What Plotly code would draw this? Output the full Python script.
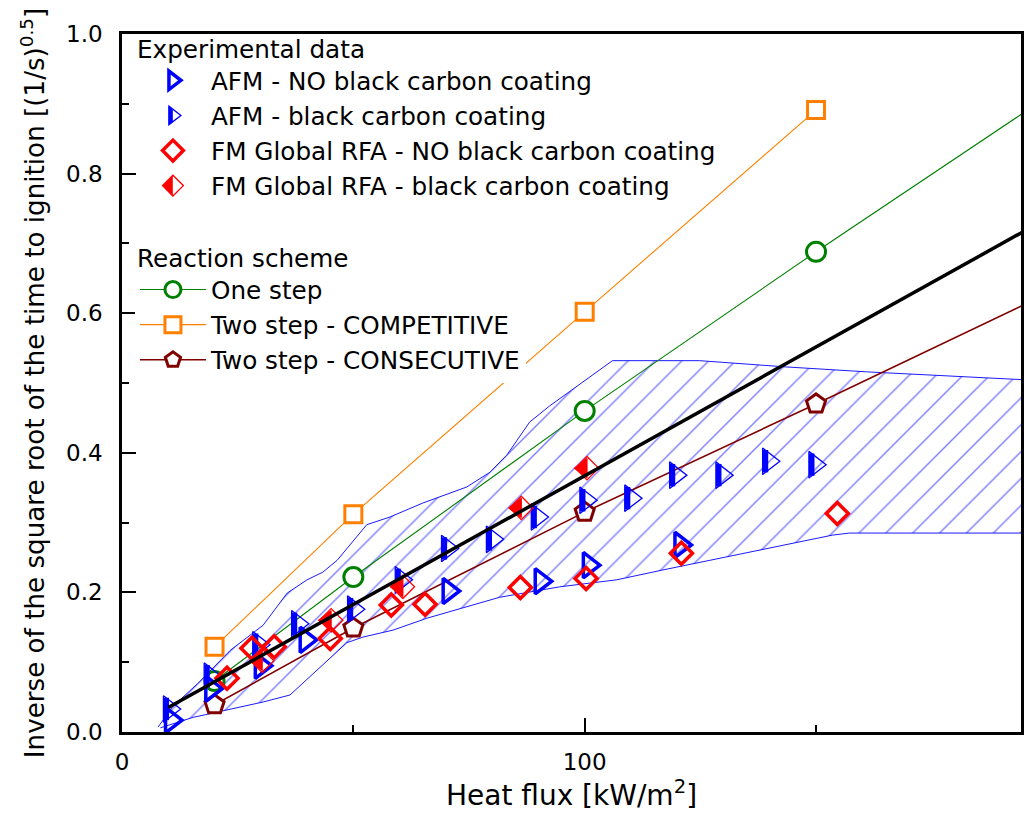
import plotly.graph_objects as go

# ---------------- data ----------------
# Experimental data
afm_no_x = [10.6, 19.3, 30.0, 39.7, 70.6, 90.5, 100.9, 120.7]
afm_no_y = [0.017, 0.062, 0.095, 0.132, 0.202, 0.216, 0.239, 0.268]

afm_bc_x = [10.2, 19.0, 29.5, 37.9, 50.0, 60.3, 70.3, 80.0, 89.7, 100.2, 109.9, 119.6, 129.6, 139.7, 149.7]
afm_bc_y = [0.033, 0.080, 0.125, 0.155, 0.176, 0.218, 0.263, 0.276, 0.308, 0.332, 0.335, 0.368, 0.368, 0.388, 0.383]

fm_no_x = [22.7, 28.1, 32.9, 45.0, 58.2, 65.5, 86.1, 100.3, 120.9, 154.6]
fm_no_y = [0.077, 0.120, 0.122, 0.134, 0.182, 0.183, 0.207, 0.220, 0.256, 0.313]

fm_bc_x = [30.3, 45.2, 60.7, 86.3, 100.5]
fm_bc_y = [0.102, 0.160, 0.208, 0.321, 0.378]

# Reaction schemes (model)
model_x = [20, 50, 100, 150, 200]
one_step_y = [0.073, 0.222, 0.460, 0.688, 0.910]
competitive_x = [20, 50, 100, 150]
competitive_y = [0.122, 0.312, 0.602, 0.891]
consecutive_y = [0.039, 0.149, 0.315, 0.470, 0.628]

# Black trend line
trend_x = [10, 200]
trend_y = [0.035, 0.736]

# Hatched envelope of experimental scatter
env_upper_x = [7.8, 10.9, 16.3, 23.4, 30.5, 35.7, 40.0, 43.4, 46.5, 52.9, 57.9, 65.0, 74.5, 79.5,
               83.2, 88.1, 92.4, 101.1, 106.0, 124.8, 143.6, 160.9, 200.0]
env_upper_y = [0.007, 0.036, 0.069, 0.117, 0.153, 0.199, 0.218, 0.229, 0.246, 0.297, 0.308, 0.328,
               0.351, 0.372, 0.397, 0.444, 0.467, 0.509, 0.532, 0.532, 0.523, 0.516, 0.503]
env_lower_x = [8.3, 15.4, 30.5, 36.3, 48.6, 52.1, 58.6, 65.9, 81.6, 94.6, 106.9, 116.8, 133.4,
               153.5, 157.2, 200.0]
env_lower_y = [0.006, 0.021, 0.043, 0.053, 0.128, 0.136, 0.146, 0.163, 0.193, 0.208, 0.218, 0.232,
               0.255, 0.282, 0.285, 0.285]

x_range = [0, 194.3]
y_range = [0, 1.0]

# ---------------- styling ----------------
FONT = "DejaVu Sans"
BLUE = "#0000FF"
RED = "#FF0000"
GREEN = "#008000"
ORANGE = "#FF8000"
MAROON = "#800000"

fig = go.Figure()

# envelope (hatched)
env_x = env_upper_x + env_lower_x[::-1]
env_y = env_upper_y + env_lower_y[::-1]
fig.add_trace(go.Scatter(
    x=env_x, y=env_y, mode="lines", fill="toself",
    fillcolor="rgba(0,0,0,0)",
    fillpattern=dict(shape="/", fgcolor=BLUE, bgcolor="rgba(0,0,0,0)", size=19, solidity=0.075),
    line=dict(color=BLUE, width=0.9),
    showlegend=False, hoverinfo="skip"))

# model lines
fig.add_trace(go.Scatter(
    x=model_x, y=one_step_y, mode="lines+markers", name="One step",
    line=dict(color=GREEN, width=1.1),
    marker=dict(symbol="circle", size=19, color="white", line=dict(color=GREEN, width=3)),
    legend="legend2"))
fig.add_trace(go.Scatter(
    x=competitive_x, y=competitive_y, mode="lines+markers", name="Two step - COMPETITIVE",
    line=dict(color=ORANGE, width=1.1),
    marker=dict(symbol="square", size=17, color="white", line=dict(color=ORANGE, width=3)),
    legend="legend2"))
fig.add_trace(go.Scatter(
    x=model_x, y=consecutive_y, mode="lines+markers", name="Two step - CONSECUTIVE",
    line=dict(color=MAROON, width=1.6),
    marker=dict(symbol="pentagon", size=20, color="white", line=dict(color=MAROON, width=3)),
    legend="legend2"))

# experimental data
fig.add_trace(go.Scatter(
    x=afm_no_x, y=afm_no_y, mode="markers", name="AFM - NO black carbon coating",
    marker=dict(symbol="triangle-right-open", size=22, color=BLUE, line=dict(width=3.5)),
    legend="legend"))
fig.add_trace(go.Scatter(
    x=afm_bc_x, y=afm_bc_y, mode="markers", name="AFM - black carbon coating",
    marker=dict(symbol="triangle-right-open", size=23, color=BLUE, line=dict(width=1.3)),
    legend="legend"))
fig.add_trace(go.Scatter(
    x=afm_bc_x, y=afm_bc_y, mode="markers", showlegend=False, hoverinfo="skip",
    marker=dict(symbol="line-ew", size=16, angle=90, standoff=2.9, color=BLUE,
                line=dict(color=BLUE, width=5.5))))
fig.add_trace(go.Scatter(
    x=fm_no_x, y=fm_no_y, mode="markers", name="FM Global RFA - NO black carbon coating",
    marker=dict(symbol="diamond-open", size=17, color=RED, line=dict(width=3.5)),
    legend="legend"))
fig.add_trace(go.Scatter(
    x=fm_bc_x, y=fm_bc_y, mode="markers", name="FM Global RFA - black carbon coating",
    marker=dict(symbol="diamond-open", size=18, color=RED, line=dict(width=1.3)),
    legend="legend"))
fig.add_trace(go.Scatter(
    x=fm_bc_x, y=fm_bc_y, mode="markers", showlegend=False, hoverinfo="skip",
    marker=dict(symbol="triangle-down", size=16.6, angle=90, standoff=4.15, color=RED,
                line=dict(color=RED, width=1.2))))

# black trend line
fig.add_trace(go.Scatter(
    x=trend_x, y=trend_y, mode="lines", line=dict(color="black", width=3.5),
    showlegend=False, hoverinfo="skip"))

# half-filled parts of the two "black carbon coating" legend glyphs
# (legend rows 2 and 4 of the first legend; glyph centre 173 px, rows at 116 / 186 px)
legend_glyph_x = (173 - 122) / 902
row2_y = (732 - 116) / 698
row4_y = (732 - 186) / 698
fig.add_shape(type="path", xref="paper", yref="paper", xsizemode="pixel", ysizemode="pixel",
              xanchor=legend_glyph_x, yanchor=row2_y,
              path="M-4.3,-9.4 L0,-6.2 L0,6.2 L-4.3,9.4 Z",
              fillcolor=BLUE, line=dict(width=0), layer="above")
fig.add_shape(type="path", xref="paper", yref="paper", xsizemode="pixel", ysizemode="pixel",
              xanchor=legend_glyph_x, yanchor=row4_y,
              path="M-10.4,0 L0,-10.4 L0,10.4 Z",
              fillcolor=RED, line=dict(width=0), layer="above")

axis_common = dict(
    showline=True, linecolor="black", linewidth=2.5, mirror=True,
    showgrid=False, zeroline=False,
    ticks="inside", ticklen=14, tickwidth=2, tickcolor="black",
    tickfont=dict(family=FONT, size=23, color="black"),
)

fig.update_layout(
    width=1024, height=816,
    margin=dict(l=122, r=0, t=34, b=84),
    paper_bgcolor="white", plot_bgcolor="white",
    font=dict(family=FONT, color="black"),
    xaxis=dict(
        range=x_range, tick0=0, dtick=100,
        minor=dict(dtick=50, ticks="inside", ticklen=7, tickwidth=2, tickcolor="black"),
        ticklabelstandoff=8,
        title=dict(text="Heat flux [kW/m<sup>2</sup>]",
                   font=dict(family=FONT, size=28), standoff=4),
        **axis_common),
    yaxis=dict(
        range=y_range, tick0=0, dtick=0.2, tickformat=".1f",
        minor=dict(dtick=0.1, ticks="inside", ticklen=7, tickwidth=2, tickcolor="black"),
        ticklabelstandoff=12,
        title=dict(text="Inverse of the square root of the time to ignition [(1/s)<sup>0.5</sup>]",
                   font=dict(family=FONT, size=26.2), standoff=14),
        **axis_common),
    legend=dict(
        x=0.0144, y=1.012, xanchor="left", yanchor="top",
        bgcolor="rgba(0,0,0,0)", borderwidth=0, itemwidth=66,
        font=dict(family=FONT, size=24.7, color="black"),
        title=dict(text="Experimental data", font=dict(family=FONT, size=24.7, color="black")),
        traceorder="normal"),
    legend2=dict(
        x=0.0144, y=0.7122, xanchor="left", yanchor="top",
        bgcolor="white", borderwidth=0, itemwidth=66,
        font=dict(family=FONT, size=24.7, color="black"),
        title=dict(text="Reaction scheme", font=dict(family=FONT, size=24.7, color="black")),
        traceorder="normal"),
)

fig.write_html("out.html")
